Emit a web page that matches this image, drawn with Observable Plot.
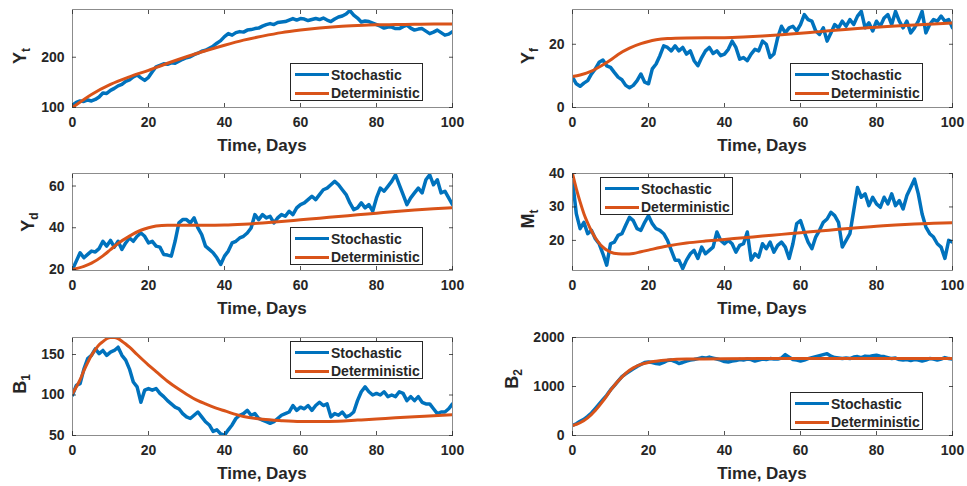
<!DOCTYPE html>
<html><head><meta charset="utf-8">
<script src="https://cdn.jsdelivr.net/npm/d3@7"></script>
<script src="https://cdn.jsdelivr.net/npm/@observablehq/plot@0.6"></script>
<style>
body{margin:0;background:#fff;}
#fig{position:relative;width:967px;height:486px;overflow:hidden;font-family:"Liberation Sans",Arial,sans-serif;font-weight:bold;color:#262626;}
.panel{position:absolute;}
.ylab{position:absolute;font-size:18px;line-height:18px;transform:translate(-50%,-50%) rotate(-90deg);white-space:nowrap;}
.ylab sub{font-size:12px;vertical-align:-4px;line-height:0;}
.xlab{position:absolute;font-size:17px;line-height:18px;transform:translate(-50%,-50%);white-space:nowrap;}
.legend{position:absolute;width:133px;height:38px;background:#fff;border:1px solid #262626;box-sizing:border-box;font-size:14px;}
.legend .sw{position:absolute;left:4px;width:34px;height:3px;}
.legend .tx{position:absolute;left:40px;line-height:16px;white-space:nowrap;}
</style>
</head><body>
<div id="fig"></div>
<script>
// ---------- data ----------
const days = Array.from({length: 101}, (_, i) => i);
const xTicks = [0, 20, 40, 60, 80, 100];
const seriesNames = ["Stochastic", "Deterministic"];
const colors = ["#0072BD", "#D95319"];

// Y_t
const ytStoch = [105,110,113,112,115,113,116,121,129,128,134,138,143,146,152,155,161,165,159,154,160,171,181,184,187,186,189,188,192,196,199,201,205,208,212,214,218,222,228,233,241,247,244,249,251,250,254,255,257,258,262,265,267,265,269,270,271,274,277,274,277,276,273,275,277,275,278,274,271,276,280,282,286,293,284,278,270,272,271,268,265,262,258,260,260,257,257,261,264,258,254,256,257,252,247,250,254,249,244,246,251];
const ytDetDays = [0,5,10,15,20,25,30,35,40,45,50,55,60,65,70,75,80,85,90,95,100];
const ytDet = [100,126,146,161,174,188,201,213,224,234,242,249,254,258,261,263,264.5,265,265.5,266,266];
const ytTicks = [100, 200];

// Y_f
const yfStoch = [9.6,7.5,6.7,7.7,8.5,10.6,12.2,14.3,15,13.2,12.7,11.1,9.6,8.8,7,6.25,7,8.5,10.6,8,7.5,12.2,13.75,16.4,19.5,19,17.9,19.5,17.9,19,16.9,17.9,14.8,13.2,15.8,17.9,19,17.1,17.9,16.4,16.9,18.4,21,19,15.3,15.8,14.8,16.9,18.4,17.9,21,20,15.8,16.9,22.1,25.7,23.6,25.2,25.7,24.2,26.25,29.4,27.8,27.3,24.2,23.1,25.2,21,23.6,26.25,25.2,27.3,25.7,27.8,26.25,28.9,30.4,25.2,26.8,24.2,27.3,25.7,28.3,29.4,26.25,30.4,27.3,25.2,27.3,23.6,25.2,27.3,30.4,23.6,26.25,27.8,27.3,28.9,27.3,27.8,25.2];
const yfDetDays = [0,2,5,8,10,12,15,18,20,22,25,30,40,45,50,55,60,65,70,75,80,85,90,95,100];
const yfDet = [9.8,10.3,11.5,13.5,15,16.8,18.8,20.2,20.9,21.4,21.8,22,22.1,22.3,22.6,23,23.5,24,24.5,25,25.4,25.8,26.1,26.4,26.7];
const yfTicks = [0, 20];

// Y_d
const ydStoch = [20,24,28,25.6,27.2,28.8,28.4,30,33.5,31.2,33.9,30.7,33.5,29.6,32.7,35.1,33.5,35.9,37.5,35.9,32.7,33.5,31.2,30.7,27.2,26.9,26.4,33.5,42.3,43.9,43.9,42.3,44.7,39.9,36.7,31.2,29.6,28,25.6,22.4,26.4,28.8,32.7,33.5,35.1,35.9,37.5,39.9,46.3,43.9,46.3,44.7,45.5,42.3,44.7,46.3,45.5,47.9,46.3,49.5,51.1,51.9,53.5,55.1,53.5,55.9,58.2,59,60.6,62.2,60.6,58.2,55.9,51.9,48.7,49.5,51.9,49.5,51.1,47.9,54.3,59,57.5,59.8,62.2,65.4,60.6,55.9,51.1,54.3,56.7,59,56.7,63,65.4,60.6,63,56.7,57.5,54.3,51.1];
const ydDetDays = [0,3,5,8,10,12,15,18,20,22,25,30,35,40,45,50,55,60,65,70,75,80,85,90,95,100];
const ydDet = [20,21.5,23,26.5,29.5,32.5,36,38.8,40,40.8,41.2,41.2,41.2,41.3,41.7,42.3,43,43.8,44.6,45.4,46.2,47,47.8,48.5,49.1,49.6];
const ydTicks = [20, 40, 60];

// M_t
const mtStoch = [38,28,23.5,25.4,22,23,20.5,19,16,12.6,19,19.5,21.5,22,24.5,26.9,25.9,23.5,23,25.4,27.4,25,23.5,23,22,20,17,14.1,14.1,11.6,14.1,16,17,14.6,18,16,17,18,22.5,20,19,20,19,16.5,18.5,19,22.5,14.1,16,15,19,17.5,19.5,16.5,18.5,19.5,18,14.6,19,25,25.9,22.5,19.5,17.5,21,23,25.4,26.4,28.4,27.4,25.4,18,20,22,28.9,35.8,32.9,33.9,30.4,32.9,30.9,29.9,32.9,30.9,33.9,30.4,31.9,29.4,33.4,35.8,38.3,33.9,27.9,24,22,21,19,18,14.6,20,19.5];
const mtDetDays = [0,1,2,3,4,5,6,7,8,9,10,12,14,16,18,20,25,30,35,40,45,50,55,60,65,70,75,80,85,90,95,100];
const mtDet = [40,35.5,31.5,28,25.2,22.8,20.8,19.2,18,17.1,16.5,16,15.9,16.1,16.6,17.1,18.3,19.2,19.8,20.3,20.8,21.3,21.8,22.3,22.8,23.3,23.8,24.2,24.6,24.9,25.1,25.3];
const mtTicks = [20, 30, 40];

// B_1
const b1Stoch = [100,112,114,132,145,149,157,151,155,149,153,155,159,149,143,132,116,110,91,106,108,106,108,102,98,93,89,85,83,77,73,71,75,79,73,67,63,55,57,52,50.4,57,63,71,75,77,81,75,77,71,69,67,65,67,71,75,77,79,87,81,85,83,87,81,87,91,87,89,73,77,75,79,73,75,79,93,104,110,104,100,102,100,104,98,100,98,104,102,93,98,93,98,91,89,89,83,77,79,79,83,89];
const b1DetDays = [0,1,2,3,4,5,6,7,8,9,10,11,12,13,14,15,17,20,22,25,28,30,33,35,38,40,45,50,55,60,65,70,75,80,85,90,95,100];
const b1Det = [102,110,119,130,140,149,156,162,166,169.5,171,171,169.5,166.5,163,159,150,137,129,117,107,101,93,89,83.5,80.5,73.5,70,68.3,67.3,67.2,67.7,69,70.3,71.8,73,74.5,75.8];
const b1Ticks = [50, 100, 150];

// B_2
const b2Stoch = [205,240,290,330,390,460,550,640,730,820,930,1020,1110,1200,1260,1310,1360,1410,1450,1490,1500,1490,1470,1460,1490,1530,1540,1510,1470,1490,1520,1540,1550,1570,1590,1580,1600,1580,1560,1540,1510,1500,1520,1530,1550,1540,1560,1550,1520,1540,1560,1550,1570,1560,1560,1580,1650,1600,1550,1540,1520,1540,1570,1590,1610,1630,1650,1670,1620,1590,1580,1570,1580,1570,1600,1610,1590,1620,1610,1630,1640,1620,1610,1590,1570,1580,1550,1540,1550,1530,1550,1540,1520,1540,1570,1560,1540,1560,1590,1570,1560];
const b2DetDays = [0,2,4,6,8,10,12,14,16,18,20,22,25,30,40,60,80,100];
const b2Det = [200,260,360,510,700,920,1110,1270,1380,1450,1490,1515,1540,1560,1568,1570,1570,1570];
const b2Ticks = [0, 1000, 2000];

// ---------- layout ----------
const fig = document.getElementById("fig");
const FRAME_W = 380;
const fmt = d3.format("d");

function addPanel(o) {
  const stoch = days.map((d, i) => ({x: d, y: o.stoch[i]}));
  const det = o.detDays.map((d, i) => ({x: d, y: o.det[i]}));
  const mt = o.frameTop - o.top;
  const mb = 32;
  const chart = Plot.plot({
    width: o.ml + FRAME_W + o.mr,
    height: mt + o.frameH + mb,
    marginTop: mt, marginBottom: mb, marginLeft: o.ml, marginRight: o.mr,
    style: {fontFamily: '"Liberation Sans", Arial, sans-serif', fontSize: "14px", fontWeight: "bold", color: "#262626", background: "transparent", overflow: "visible"},
    x: {domain: [0, 100], label: null},
    y: {domain: o.ydomain, label: null},
    marks: [
      Plot.line(stoch, {x: "x", y: "y", stroke: colors[0], strokeWidth: 3.5, clip: true}),
      Plot.line(det, {x: "x", y: "y", stroke: colors[1], strokeWidth: 3, curve: "monotone-x", clip: true}),
      Plot.frame({stroke: "#8c8c8c", strokeWidth: 1}),
      Plot.axisX(xTicks, {anchor: "bottom", tickSize: -4, tickPadding: 14, tickFormat: fmt, label: null, strokeWidth: 0.8}),
      Plot.axisX(xTicks, {anchor: "top", tickSize: -4, tickFormat: () => "", label: null, strokeWidth: 0.8}),
      Plot.axisY(o.yticks, {anchor: "left", tickSize: -4, tickPadding: 12, tickFormat: fmt, label: null, strokeWidth: 0.8}),
      Plot.axisY(o.yticks, {anchor: "right", tickSize: -4, tickFormat: () => "", label: null, strokeWidth: 0.8})
    ]
  });
  const wrap = document.createElement("div");
  wrap.className = "panel";
  wrap.style.left = o.left + "px";
  wrap.style.top = o.top + "px";
  wrap.appendChild(chart);
  fig.appendChild(wrap);

  // y label
  const yl = document.createElement("div");
  yl.className = "ylab";
  yl.style.left = o.ylx + "px";
  yl.style.top = o.yly + "px";
  yl.innerHTML = o.ylab[0] + "<sub>" + o.ylab[1] + "</sub>";
  fig.appendChild(yl);

  // x label
  const xl = document.createElement("div");
  xl.className = "xlab";
  xl.style.left = (o.left + o.ml + FRAME_W / 2) + "px";
  xl.style.top = (o.frameTop + o.frameH + 39) + "px";
  xl.textContent = "Time, Days";
  fig.appendChild(xl);

  // legend
  const lg = document.createElement("div");
  lg.className = "legend";
  lg.style.left = o.lgx + "px";
  lg.style.top = o.lgy + "px";
  seriesNames.forEach((name, i) => {
    const cy = i === 0 ? 10.5 : 29;
    const sw = document.createElement("div");
    sw.className = "sw";
    sw.style.top = (cy - 1.5) + "px";
    sw.style.background = colors[i];
    const tx = document.createElement("div");
    tx.className = "tx";
    tx.style.top = (cy - 8) + "px";
    tx.textContent = name;
    lg.appendChild(sw);
    lg.appendChild(tx);
  });
  fig.appendChild(lg);
}

const L = {left: 0, ml: 72, mr: 28};
const R = {left: 500, ml: 72, mr: 15};

addPanel({...L, top: 0, frameTop: 9, frameH: 98, stoch: ytStoch, detDays: ytDetDays, det: ytDet, ydomain: [100, 295], yticks: ytTicks, ylab: ["Y", "t"], ylx: 20, yly: 56, lgx: 290, lgy: 63});
addPanel({...R, top: 0, frameTop: 9, frameH: 98, stoch: yfStoch, detDays: yfDetDays, det: yfDet, ydomain: [0, 31], yticks: yfTicks, ylab: ["Y", "f"], ylx: 528, yly: 56, lgx: 790, lgy: 63});
addPanel({...L, top: 160, frameTop: 173, frameH: 97, stoch: ydStoch, detDays: ydDetDays, det: ydDet, ydomain: [19.5, 66], yticks: ydTicks, ylab: ["Y", "d"], ylx: 28, yly: 222, lgx: 290, lgy: 227});
addPanel({...R, top: 160, frameTop: 173, frameH: 97, stoch: mtStoch, detDays: mtDetDays, det: mtDet, ydomain: [11, 40], yticks: mtTicks, ylab: ["M", "t"], ylx: 528, yly: 219, lgx: 600, lgy: 177});
addPanel({...L, top: 325, frameTop: 337, frameH: 98, stoch: b1Stoch, detDays: b1DetDays, det: b1Det, ydomain: [50, 171], yticks: b1Ticks, ylab: ["B", "1"], ylx: 20, yly: 384, lgx: 290, lgy: 341});
addPanel({...R, top: 325, frameTop: 337, frameH: 98, stoch: b2Stoch, detDays: b2DetDays, det: b2Det, ydomain: [0, 2000], yticks: b2Ticks, ylab: ["B", "2"], ylx: 512, yly: 379, lgx: 790, lgy: 392});
</script>
</body></html>
